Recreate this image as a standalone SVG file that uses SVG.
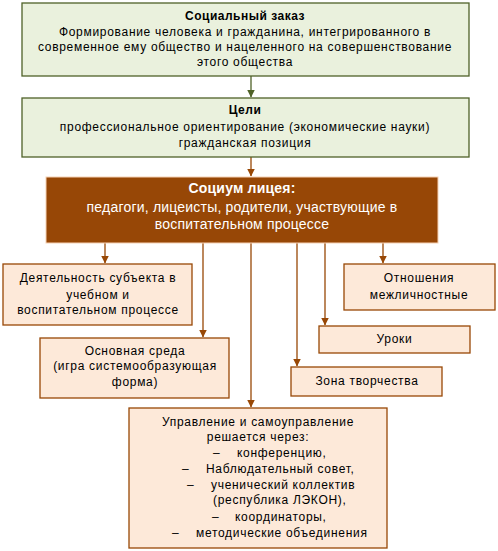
<svg xmlns="http://www.w3.org/2000/svg" width="498" height="551" viewBox="0 0 498 551">
<defs>
<style>
text{font-family:"Liberation Sans",Arial,sans-serif;font-size:12px;letter-spacing:0.7px;fill:#000;text-anchor:middle}
.b{font-weight:bold;letter-spacing:0.5px}
.g{fill:#EAF1DD;stroke:#4F6228;stroke-width:1.3}
.p{fill:#FDE9D9;stroke:#984806;stroke-width:1.3}
.s{fill:#974706;stroke:#F6D2B4;stroke-width:1}
.w{fill:#fff;font-size:14px;letter-spacing:0.2px}
.l{text-anchor:start}
.cg{stroke:#4F6228;stroke-width:1.3;fill:none}
.cb{stroke:#984806;stroke-width:1.3;fill:none}
</style>
<marker id="ag" viewBox="0 0 8 8" refX="7.5" refY="4" markerWidth="8" markerHeight="8" markerUnits="userSpaceOnUse" orient="auto"><path d="M0,0 L8,4 L0,8 Z" fill="#4F6228"/></marker>
<marker id="ab" viewBox="0 0 8 8" refX="7.5" refY="4" markerWidth="8" markerHeight="8" markerUnits="userSpaceOnUse" orient="auto"><path d="M0,0 L8,4 L0,8 Z" fill="#984806"/></marker>
</defs>
<g id="connectors">
<path class="cg" d="M251,76 V97" marker-end="url(#ag)"/>
<path class="cb" d="M251,157 V176" marker-end="url(#ab)"/>
<path class="cb" d="M105,243 V263" marker-end="url(#ab)"/>
<path class="cb" d="M203,243 V337" marker-end="url(#ab)"/>
<path class="cb" d="M251,243 V407" marker-end="url(#ab)"/>
<path class="cb" d="M297,243 V366" marker-end="url(#ab)"/>
<path class="cb" d="M325,243 V325" marker-end="url(#ab)"/>
<path class="cb" d="M383,243 V263" marker-end="url(#ab)"/>
</g>
<g id="social">
<rect class="g" x="22" y="3" width="447" height="73"/>
<text class="b" x="245" y="20">Социальный заказ</text>
<text x="245" y="36">Формирование человека и гражданина, интегрированного в</text>
<text x="245" y="51">современное ему общество и нацеленного на совершенствование</text>
<text x="245" y="66">этого общества</text>
</g>
<g id="goals">
<rect class="g" x="22" y="98" width="447" height="59"/>
<text class="b" x="245" y="114">Цели</text>
<text x="245" y="131">профессиональное ориентирование (экономические науки)</text>
<text x="245" y="147">гражданская позиция</text>
</g>
<g id="socium">
<rect class="s" x="46" y="177" width="392" height="66"/>
<text class="w b" x="242" y="193">Социум лицея:</text>
<text class="w" x="242" y="212">педагоги, лицеисты, родители, участвующие в</text>
<text class="w" x="242" y="229">воспитательном процессе</text>
</g>
<g id="activity">
<rect class="p" x="3" y="264" width="189" height="61"/>
<text x="98" y="282">Деятельность субъекта в</text>
<text x="98" y="299">учебном и</text>
<text x="98" y="314">воспитательном процессе</text>
</g>
<g id="relations">
<rect class="p" x="344" y="264" width="151" height="46"/>
<text x="419" y="282">Отношения</text>
<text x="419" y="299">межличностные</text>
</g>
<g id="lessons">
<rect class="p" x="319" y="326" width="151" height="27"/>
<text x="394.5" y="343">Уроки</text>
</g>
<g id="environment">
<rect class="p" x="40" y="338" width="189" height="60"/>
<text x="135" y="355">Основная среда</text>
<text x="135" y="370">(игра системообразующая</text>
<text x="135" y="386">форма)</text>
</g>
<g id="creativity">
<rect class="p" x="291" y="367" width="151" height="29"/>
<text x="367" y="385">Зона творчества</text>
</g>
<g id="management">
<rect class="p" x="129" y="408" width="258" height="140"/>
<text x="258" y="426">Управление и самоуправление</text>
<text x="258" y="441">решается через:</text>
<text class="l" x="213" y="457">–</text><text class="l" x="237" y="457">конференцию,</text>
<text class="l" x="182" y="473">–</text><text class="l" x="206" y="473">Наблюдательный совет,</text>
<text class="l" x="187" y="489">–</text><text class="l" x="211" y="489">ученический коллектив</text>
<text class="l" x="213" y="504">(республика ЛЭКОН),</text>
<text class="l" x="212" y="521">–</text><text class="l" x="235" y="521">координаторы,</text>
<text class="l" x="172" y="537">–</text><text class="l" x="196" y="537">методические объединения</text>
</g>
</svg>
